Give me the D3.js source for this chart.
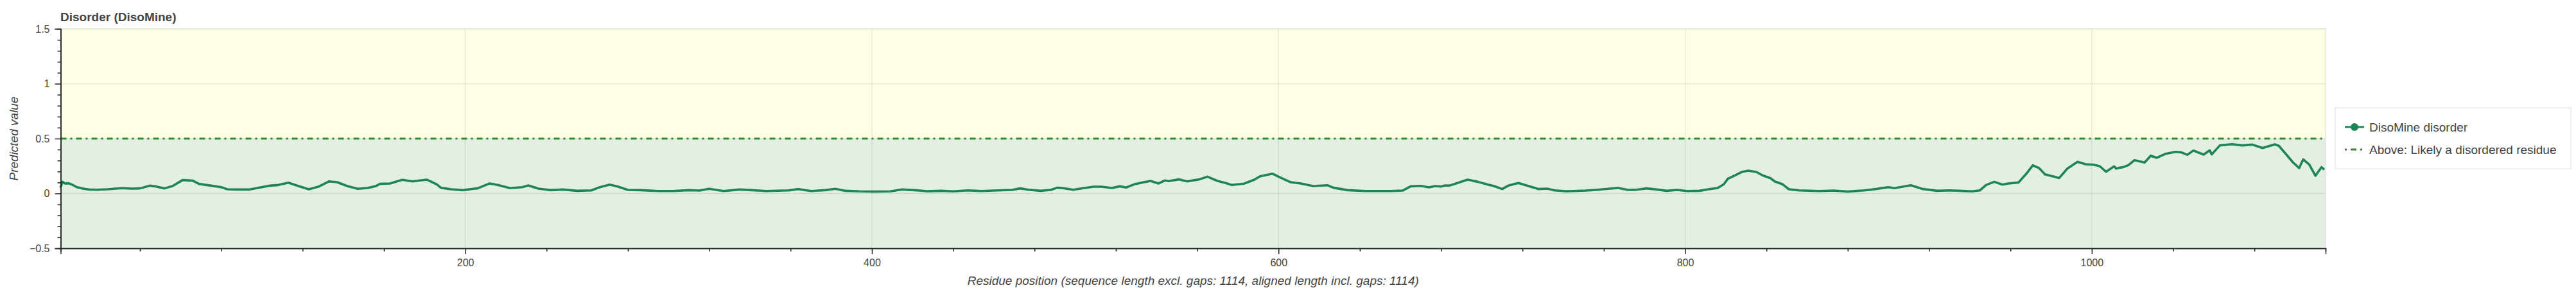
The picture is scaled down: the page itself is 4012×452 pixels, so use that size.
<!DOCTYPE html>
<html>
<head>
<meta charset="utf-8">
<script src="https://cdn.jsdelivr.net/npm/d3@7"></script>
<style>
  html, body { margin: 0; padding: 0; background: #fff; }
  svg { display: block; font-family: "Liberation Sans", Arial, Helvetica, sans-serif; }
</style>
</head>
<body>
<svg id="chart" width="4012" height="452"></svg>
<script>
// ---------- data ----------
const chartTitle = "Disorder (DisoMine)";
const xLabel = "Residue position (sequence length excl. gaps: 1114, aligned length incl. gaps: 1114)";
const yLabel = "Predicted value";
const seriesName = "DisoMine disorder";
const thresholdName = "Above: Likely a disordered residue";
const threshold = 0.5;

const residues = [1,2,3,5,7,9,12,15,19,24,31,36,40,45,48,52,56,61,66,69,75,80,83,88,94,99,104,108,113,118,123,128,133,137,142,147,152,156,158,163,169,174,181,186,188,193,199,204,206,212,216,222,228,231,236,242,248,255,262,266,271,275,280,286,295,302,310,315,320,327,335,341,348,359,364,370,377,382,387,394,401,409,415,421,427,434,440,447,454,462,469,473,477,483,488,491,494,499,504,509,513,518,522,525,529,533,537,541,544,546,551,555,559,561,565,570,573,577,583,588,591,597,600,606,611,617,624,627,634,643,655,661,665,670,674,677,680,682,684,688,693,698,703,706,710,713,718,723,728,732,736,741,745,751,757,762,767,772,776,781,786,791,796,801,807,811,816,819,821,825,828,831,835,838,842,844,848,851,856,866,873,880,888,892,900,903,911,917,924,930,935,941,945,948,952,956,959,964,968,971,974,977,981,984,988,993,997,1001,1004,1007,1011,1012,1016,1018,1021,1026,1029,1032,1036,1041,1044,1047,1050,1055,1058,1059,1063,1069,1074,1079,1084,1090,1092,1095,1099,1102,1104,1107,1110,1113,1114];
const disorder = [0.061,0.106,0.091,0.093,0.077,0.057,0.044,0.036,0.034,0.038,0.048,0.044,0.046,0.071,0.063,0.046,0.067,0.122,0.116,0.087,0.071,0.057,0.038,0.036,0.036,0.054,0.071,0.077,0.098,0.067,0.038,0.063,0.110,0.102,0.067,0.042,0.050,0.067,0.087,0.091,0.124,0.110,0.126,0.083,0.052,0.038,0.030,0.042,0.046,0.091,0.077,0.048,0.057,0.073,0.044,0.030,0.036,0.024,0.028,0.056,0.081,0.063,0.032,0.030,0.022,0.022,0.030,0.026,0.042,0.022,0.036,0.030,0.022,0.028,0.040,0.022,0.030,0.042,0.024,0.019,0.017,0.019,0.036,0.030,0.020,0.024,0.019,0.028,0.022,0.028,0.032,0.046,0.034,0.024,0.032,0.052,0.048,0.034,0.048,0.061,0.061,0.050,0.065,0.054,0.083,0.100,0.114,0.091,0.118,0.112,0.128,0.110,0.122,0.128,0.153,0.114,0.100,0.077,0.089,0.124,0.157,0.180,0.153,0.102,0.091,0.067,0.075,0.052,0.030,0.022,0.022,0.026,0.065,0.069,0.056,0.067,0.063,0.073,0.071,0.095,0.126,0.106,0.081,0.067,0.040,0.071,0.095,0.067,0.040,0.044,0.028,0.020,0.022,0.026,0.034,0.042,0.050,0.032,0.034,0.046,0.036,0.024,0.032,0.022,0.024,0.036,0.050,0.083,0.134,0.169,0.196,0.208,0.196,0.165,0.139,0.110,0.083,0.038,0.028,0.022,0.026,0.017,0.028,0.036,0.057,0.048,0.075,0.040,0.024,0.028,0.024,0.019,0.028,0.077,0.106,0.081,0.091,0.100,0.184,0.256,0.232,0.174,0.155,0.141,0.227,0.288,0.266,0.262,0.247,0.198,0.247,0.227,0.243,0.258,0.303,0.282,0.344,0.325,0.359,0.379,0.375,0.352,0.391,0.354,0.393,0.356,0.438,0.449,0.438,0.445,0.414,0.447,0.434,0.370,0.282,0.231,0.311,0.262,0.161,0.240,0.223];

const xDomain = [1, 1115];
const yDomain = [-0.5, 1.5];
const xMajorTicks = [200, 400, 600, 800, 1000];
const xMinorTicks = [40,80,120,160,240,280,320,360,440,480,520,560,640,680,720,760,840,880,920,960,1040,1080];
const yMajorTicks = [-0.5, 0, 0.5, 1, 1.5];
const yMajorLabels = ["\u22120.5", "0", "0.5", "1", "1.5"];
const yMinorTicks = [-0.4,-0.3,-0.2,-0.1,0.1,0.2,0.3,0.4,0.6,0.7,0.8,0.9,1.1,1.2,1.3,1.4];

// ---------- layout ----------
const plot = { left: 94.5, right: 3622, top: 45, bottom: 387 };
const colors = {
  line: "#1d8558",
  threshold: "#2e8a2e",
  above: "#fefee4",
  below: "#e3efe3",
  grid: "rgba(0,0,0,0.09)",
  text: "#444",
  axis: "#222"
};

const svg = d3.select("#chart");
svg.append("rect").attr("width", 4012).attr("height", 452).attr("fill", "#fff");

const x = d3.scaleLinear().domain(xDomain).range([plot.left, plot.right]);
const y = d3.scaleLinear().domain(yDomain).range([plot.bottom, plot.top]);

// background bands
svg.append("rect")
  .attr("x", plot.left).attr("width", plot.right - plot.left)
  .attr("y", y(yDomain[1])).attr("height", y(threshold) - y(yDomain[1]))
  .attr("fill", colors.above);
svg.append("rect")
  .attr("x", plot.left).attr("width", plot.right - plot.left)
  .attr("y", y(threshold)).attr("height", y(yDomain[0]) - y(threshold))
  .attr("fill", colors.below);

// grid
const grid = svg.append("g").attr("stroke", colors.grid).attr("stroke-width", 1.3);
grid.selectAll("line.gx").data(xMajorTicks).join("line")
  .attr("x1", d => x(d)).attr("x2", d => x(d))
  .attr("y1", plot.top).attr("y2", plot.bottom);
grid.selectAll("line.gy").data(yMajorTicks).join("line")
  .attr("x1", plot.left).attr("x2", plot.right)
  .attr("y1", d => y(d)).attr("y2", d => y(d));
// outline (top / right)
svg.append("rect")
  .attr("x", plot.left).attr("y", plot.top)
  .attr("width", plot.right - plot.left).attr("height", plot.bottom - plot.top)
  .attr("fill", "none").attr("stroke", "#e2e2e2").attr("stroke-width", 1.3);

// threshold line
svg.append("line")
  .attr("x1", plot.left).attr("x2", plot.right)
  .attr("y1", y(threshold)).attr("y2", y(threshold))
  .attr("stroke", colors.threshold).attr("stroke-width", 3)
  .attr("stroke-dasharray", "9,6,3,6");

// series line
const pts = residues.map((r, i) => [r, disorder[i]]);
svg.append("path")
  .datum(pts)
  .attr("fill", "none")
  .attr("stroke", colors.line)
  .attr("stroke-width", 3.6)
  .attr("stroke-linejoin", "round")
  .attr("stroke-linecap", "round")
  .attr("d", d3.line().x(d => x(d[0])).y(d => y(d[1])));

// axes
function styleAxis(g) {
  g.select(".domain").attr("stroke", colors.axis).attr("stroke-width", 1.5);
  g.selectAll(".tick line").attr("stroke", colors.axis).attr("stroke-width", 1.5);
  g.selectAll(".tick text").attr("fill", colors.text).attr("font-size", 16);
}
const xAxisMinor = svg.append("g").attr("transform", `translate(0,${plot.bottom})`)
  .call(d3.axisBottom(x).tickValues(xMinorTicks).tickSize(5).tickFormat(""));
styleAxis(xAxisMinor);
const xAxis = svg.append("g").attr("transform", `translate(0,${plot.bottom})`)
  .call(d3.axisBottom(x).tickValues(xMajorTicks).tickSize(9).tickPadding(8).tickFormat(d3.format("d")));
styleAxis(xAxis);

const yAxisMinor = svg.append("g").attr("transform", `translate(${plot.left},0)`)
  .call(d3.axisLeft(y).tickValues(yMinorTicks).tickSize(5).tickFormat(""));
styleAxis(yAxisMinor);
const yAxis = svg.append("g").attr("transform", `translate(${plot.left},0)`)
  .call(d3.axisLeft(y).tickValues(yMajorTicks).tickSize(9).tickPadding(8)
    .tickFormat((d, i) => yMajorLabels[i]));
styleAxis(yAxis);

// title and labels
svg.append("text")
  .attr("x", 94).attr("y", 33)
  .attr("font-size", 19).attr("font-weight", "bold").attr("fill", colors.text)
  .text(chartTitle);
svg.append("text")
  .attr("transform", `translate(28,${(plot.top + plot.bottom) / 2}) rotate(-90)`)
  .attr("text-anchor", "middle")
  .attr("font-size", 19).attr("font-style", "italic").attr("fill", colors.text)
  .text(yLabel);
svg.append("text")
  .attr("x", (plot.left + plot.right) / 2).attr("y", 444)
  .attr("text-anchor", "middle")
  .attr("font-size", 19).attr("font-style", "italic").attr("fill", colors.text)
  .text(xLabel);

// legend
const legend = svg.append("g");
legend.append("rect")
  .attr("x", 3637).attr("y", 168).attr("width", 367).attr("height", 95)
  .attr("fill", "#fff").attr("stroke", "#e5e5e5").attr("stroke-width", 1.3);
const items = [
  { name: seriesName, type: "line", cy: 198 },
  { name: thresholdName, type: "dash", cy: 233 }
];
items.forEach(it => {
  if (it.type === "line") {
    legend.append("line").attr("x1", 3652).attr("x2", 3682).attr("y1", it.cy).attr("y2", it.cy)
      .attr("stroke", colors.line).attr("stroke-width", 3);
    legend.append("circle").attr("cx", 3667).attr("cy", it.cy).attr("r", 6).attr("fill", colors.line);
  } else {
    legend.append("line").attr("x1", 3652).attr("x2", 3682).attr("y1", it.cy).attr("y2", it.cy)
      .attr("stroke", colors.threshold).attr("stroke-width", 3)
      .attr("stroke-dasharray", "3,6,9,6");
  }
  legend.append("text").attr("x", 3690).attr("y", it.cy).attr("dy", "0.35em")
    .attr("font-size", 19).attr("fill", colors.text).text(it.name);
});
</script>
</body>
</html>
